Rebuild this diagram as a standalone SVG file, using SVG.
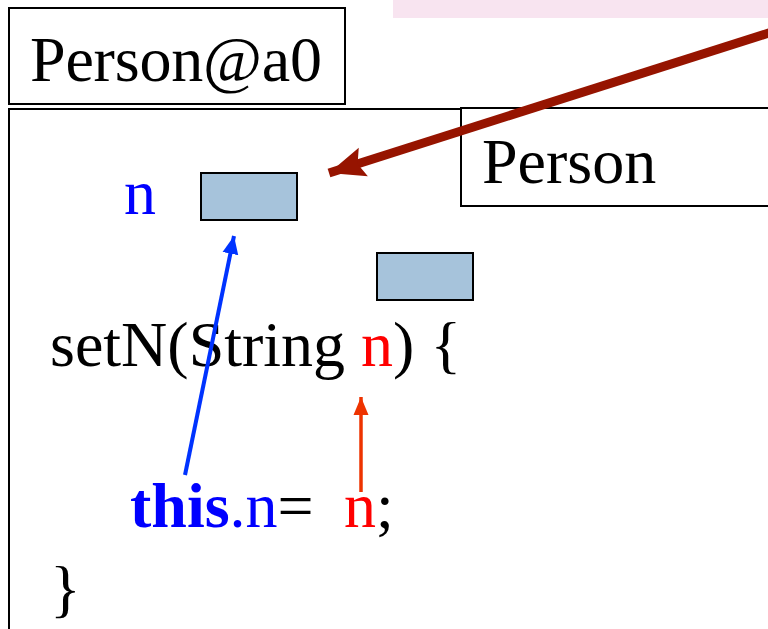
<svg xmlns="http://www.w3.org/2000/svg" width="768" height="629" viewBox="0 0 768 629">
  <style>
    .box { fill: #ffffff; stroke: #000000; stroke-width: 2; }
    .slot { fill: #a6c3db; stroke: #000000; stroke-width: 2; }
    .t { font-family: "Liberation Serif", "Times New Roman", serif; font-size: 64px; fill: #000000; }
    .blue { fill: #0000ff; }
    .red { fill: #ff0000; }
  </style>
  <defs>
    <marker id="headBrown" markerUnits="userSpaceOnUse" markerWidth="40" markerHeight="32" refX="36" refY="16" orient="auto">
      <path d="M0,1 L36,16 L0,31 L6,16 Z" fill="#961400"/>
    </marker>
    <marker id="headBlue" markerUnits="userSpaceOnUse" markerWidth="20" markerHeight="18" refX="18" refY="9" orient="auto">
      <path d="M0,1 L18,9 L0,17 Z" fill="#0033ff"/>
    </marker>
    <marker id="headRed" markerUnits="userSpaceOnUse" markerWidth="20" markerHeight="18" refX="18" refY="9" orient="auto">
      <path d="M0,1.5 L18,9 L0,16.5 Z" fill="#ee3300"/>
    </marker>
  </defs>

  <rect x="0" y="0" width="768" height="629" fill="#ffffff"/>

  <!-- highlight band at the top -->
  <rect x="393" y="0" width="375" height="18" fill="#f8e4f0"/>

  <g id="object-label">
    <rect class="box" x="9" y="8" width="336" height="96"/>
    <text class="t" x="30" y="81" font-size="59" textLength="292">Person@a0</text>
  </g>

  <g id="object-body">
    <rect class="box" x="9" y="109" width="780" height="540"/>
    <text class="t blue" x="124" y="214">n</text>
    <rect class="slot" x="201" y="173" width="96" height="47"/>
    <rect class="slot" x="377" y="253" width="96" height="47"/>
    <text class="t" x="50" y="366">setN(String <tspan class="red">n</tspan>) {</text>
    <text class="t" x="130" y="527"><tspan class="blue" font-weight="bold">this</tspan><tspan class="blue">.n</tspan>=<tspan class="red" x="344">n</tspan>;</text>
    <text class="t" x="50" y="610">}</text>
  </g>

  <g id="class-tag">
    <rect class="box" x="461" y="108" width="330" height="98"/>
    <text class="t" x="482" y="183">Person</text>
  </g>

  <g id="connectors">
    <line x1="772" y1="32" x2="329" y2="173" stroke="#961400" stroke-width="9" marker-end="url(#headBrown)"/>
    <line x1="185" y1="475" x2="234" y2="236" stroke="#0033ff" stroke-width="4" marker-end="url(#headBlue)"/>
    <line x1="361" y1="492" x2="361" y2="397" stroke="#ee3300" stroke-width="3.5" marker-end="url(#headRed)"/>
  </g>
</svg>
